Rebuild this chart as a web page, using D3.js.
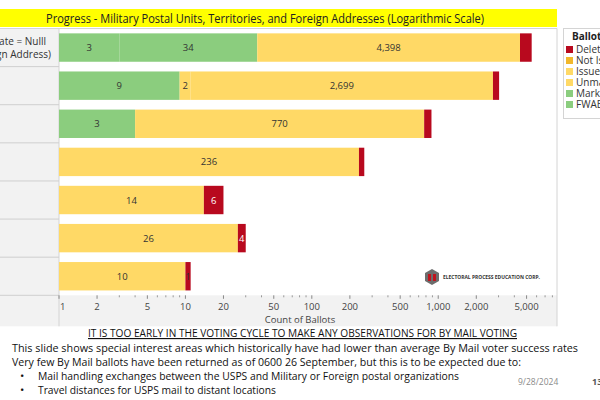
<!DOCTYPE html>
<html><head><meta charset="utf-8">
<script src="https://cdn.jsdelivr.net/npm/d3@7"></script>
<style>
html,body{margin:0;padding:0;background:#fff;overflow:hidden;}
svg{display:block;font-family:"Open Sans",sans-serif;}
</style></head>
<body>
<svg id="c" width="600" height="400"></svg>
<script>
// ---------- data ----------
const rowIds = ["r1","r2","r3","r4","r5","r6","r7"];
const rowLabelLine1 = ["State = Nulll","","","","","",""];
const rowLabelLine2 = ["(Foreign Address)","","","","","",""];
const seriesKeys = ["FWAB","Marked","Unmarked","Issued","Not Issued","Deleted"];
const fwab      = [3, 0, 1, 0, 0, 0, 0];
const marked    = [34, 9, 3, 0, 0, 0, 0];
const unmarked  = [4398, 2, 770, 236, 14, 26, 10];
const issued    = [0, 2699, 0, 0, 0, 0, 0];
const notIssued = [0, 0, 0, 0, 0, 0, 0];
const deleted   = [1050, 320, 110, 24, 6, 4, 1];
const legendKeys = ["Deleted","Not Issued","Issued","Unmarked","Marked","FWAB"];
const majorTicks = [1,2,5,10,20,50,100,200,500,1000,2000,5000];
const chartTitle = "Progress - Military Postal Units, Territories, and Foreign Addresses (Logarithmic Scale)";
const axisTitle = "Count of Ballots";
const noteHeading = "IT IS TOO EARLY IN THE VOTING CYCLE TO MAKE ANY OBSERVATIONS FOR BY MAIL VOTING";
const noteLines = ["This slide shows special interest areas which historically have had lower than average By Mail voter success rates",
  "Very few By Mail ballots have been returned as of 0600 26 September, but this is to be expected due to:"];
const bullets = ["Mail handling exchanges between the USPS and Military or Foreign postal organizations",
  "Travel distances for USPS mail to distant locations"];

const colors = {"FWAB":"#8BCD7E","Marked":"#8BCD7E","Unmarked":"#FFD966","Issued":"#FFD966","Not Issued":"#F1B72B","Deleted":"#B8091E"};

const table = rowIds.map((id,i)=>({id, "FWAB":fwab[i], "Marked":marked[i], "Unmarked":unmarked[i],
  "Issued":issued[i], "Not Issued":notIssued[i], "Deleted":deleted[i]}));

const svg = d3.select("#c");
const plotL = 59, plotR = 557, plotT = 28.5, plotB = 295.3;

// backgrounds
svg.append("rect").attr("x",0).attr("y",plotT).attr("width",plotL).attr("height",plotB-plotT).attr("fill","#f2f2f2");
svg.append("rect").attr("x",0).attr("y",plotB).attr("width",plotR).attr("height",31).attr("fill","#f2f2f2");
svg.append("line").attr("x1",plotL).attr("x2",plotL).attr("y1",plotT).attr("y2",plotB+31).attr("stroke","#d4d4d4");
svg.append("line").attr("x1",plotR).attr("x2",plotR).attr("y1",plotT).attr("y2",plotB+31).attr("stroke","#d4d4d4");
svg.append("line").attr("x1",0).attr("x2",plotR).attr("y1",plotT).attr("y2",plotT).attr("stroke","#d4d4d4");

// title band
svg.append("rect").attr("x",0).attr("y",9).attr("width",557).attr("height",18).attr("fill","#FFFF00");
svg.append("text").attr("x",46).attr("y",22.5).attr("font-size",13).attr("fill","#222")
  .attr("textLength",438).attr("lengthAdjust","spacingAndGlyphs").text(chartTitle);

// scales
const x = d3.scaleLog().domain([1, 8700]).range([plotL, plotR]);
const y = d3.scaleBand().domain(rowIds).range([plotT, plotB]).paddingInner(0.255).paddingOuter(0.1275);

// row separators in header
const step = y.step();
rowIds.forEach((id,i)=>{
  if(i>0) svg.append("line").attr("x1",0).attr("x2",plotL).attr("y1",plotT+i*step).attr("y2",plotT+i*step).attr("stroke","#cfcfcf");
});
svg.append("line").attr("x1",0).attr("x2",plotL).attr("y1",plotB).attr("y2",plotB).attr("stroke","#cfcfcf");

// row labels
const rl = svg.append("g").attr("font-size",10).attr("fill","#333");
rowIds.forEach((id,i)=>{
  const cy = y(id)+y.bandwidth()/2;
  rl.append("text").attr("x",46).attr("y",cy-3).attr("text-anchor","end").text(rowLabelLine1[i]);
  rl.append("text").attr("x",51).attr("y",cy+10.5).attr("text-anchor","end").text(rowLabelLine2[i]);
});

// stacked bars
const stack = d3.stack().keys(seriesKeys)(table);
const gBars = svg.append("g");
stack.forEach(layer=>{
  layer.forEach(d=>{
    const v = d[1]-d[0];
    if(v<=0) return;
    const x0 = x(Math.max(d[0],1)), x1 = x(d[1]);
    gBars.append("rect").attr("x",x0).attr("y",y(d.data.id)).attr("width",Math.max(0,x1-x0))
      .attr("height",y.bandwidth()).attr("fill",colors[layer.key]);
  });
});
// labels
const gLab = svg.append("g").attr("font-size",9.5).attr("text-anchor","middle");
stack.forEach(layer=>{
  layer.forEach(d=>{
    const v = d[1]-d[0];
    if(v<=0) return;
    const x0 = x(Math.max(d[0],1)), x1 = x(d[1]);
    const w = x1-x0;
    const t = gLab.append("text").attr("x",(x0+x1)/2).attr("y",y(d.data.id)+y.bandwidth()/2+3.5)
      .text(d3.format(",")(v));
    const tw = t.node().getComputedTextLength();
    if(w < tw-1.5){ t.remove(); return; }
    if(layer.key==="Deleted" && w>tw) t.attr("fill","#fff"); else t.attr("fill","#333");
  });
});

// axis
const minor = [];
for(let p=1;p<=1000;p*=10) for(let k=1;k<=9;k++){ const v=k*p; if(v<=8700 && !majorTicks.includes(v)) minor.push(v); }
const gAx = svg.append("g");
minor.forEach(v=>gAx.append("line").attr("x1",x(v)).attr("x2",x(v)).attr("y1",plotB).attr("y2",plotB+2).attr("stroke","#999"));
majorTicks.forEach(v=>gAx.append("line").attr("x1",x(v)).attr("x2",x(v)).attr("y1",plotB).attr("y2",plotB+3.5).attr("stroke","#888"));
majorTicks.forEach((v,i)=>{
  gAx.append("text").attr("x",i===0? x(v)+1 : x(v)).attr("y",310).attr("font-size",9.5).attr("fill","#444")
    .attr("text-anchor",i===0?"start":"middle").text(d3.format(",")(v));
});
svg.append("text").attr("x",300).attr("y",323).attr("text-anchor","middle").attr("font-size",9.5).attr("fill","#444").text(axisTitle);

// legend
const lg = svg.append("g");
lg.append("rect").attr("x",563.5).attr("y",28.5).attr("width",50).attr("height",90).attr("fill","#fff").attr("stroke","#d4d4d4");
lg.append("text").attr("x",572).attr("y",40).attr("font-size",10).attr("font-weight","bold").attr("fill","#222").text("Ballot Status");
legendKeys.forEach((k,i)=>{
  const cy = 49.5 + i*11;
  lg.append("rect").attr("x",566).attr("y",cy-3.5).attr("width",7).attr("height",7).attr("fill",colors[k]);
  lg.append("text").attr("x",576).attr("y",cy+3.5).attr("font-size",10).attr("fill","#333").text(k);
});

// logo
const logo = svg.append("g");
logo.append("polygon").attr("points","432,269 439,273 439,281 432,285 425,281 425,273").attr("fill","#6d6d6d");
logo.append("rect").attr("x",428).attr("y",274).attr("width",3).attr("height",7).attr("fill","#c0141e");
logo.append("rect").attr("x",433).attr("y",274).attr("width",3).attr("height",7).attr("fill","#c0141e");
logo.append("text").attr("x",443).attr("y",279).attr("font-size",5).attr("font-weight","bold").attr("fill","#333")
  .attr("textLength",97).attr("lengthAdjust","spacingAndGlyphs").text("ELECTORAL PROCESS EDUCATION CORP.");

// notes
const nt = svg.append("g").attr("fill","#111").attr("font-size",11.5);
nt.append("text").attr("x",88).attr("y",337).attr("textLength",429).attr("lengthAdjust","spacingAndGlyphs")
  .attr("text-decoration","underline").text(noteHeading);
nt.append("text").attr("x",12).attr("y",352).attr("textLength",566).attr("lengthAdjust","spacingAndGlyphs").text(noteLines[0]);
nt.append("text").attr("x",12).attr("y",366).attr("textLength",509).attr("lengthAdjust","spacingAndGlyphs").text(noteLines[1]);
const bl = [421, 238];
bullets.forEach((b,i)=>{
  nt.append("text").attr("x",20).attr("y",380+i*14).text("•");
  nt.append("text").attr("x",38).attr("y",380+i*14).attr("textLength",bl[i]).attr("lengthAdjust","spacingAndGlyphs").text(b);
});
svg.append("text").attr("x",518).attr("y",385).attr("font-size",8.5).attr("fill","#8a8a8a").text("9/28/2024");
svg.append("text").attr("x",592).attr("y",385).attr("font-size",9).attr("font-weight","bold").attr("fill","#555").text("13");
</script>
</body></html>
